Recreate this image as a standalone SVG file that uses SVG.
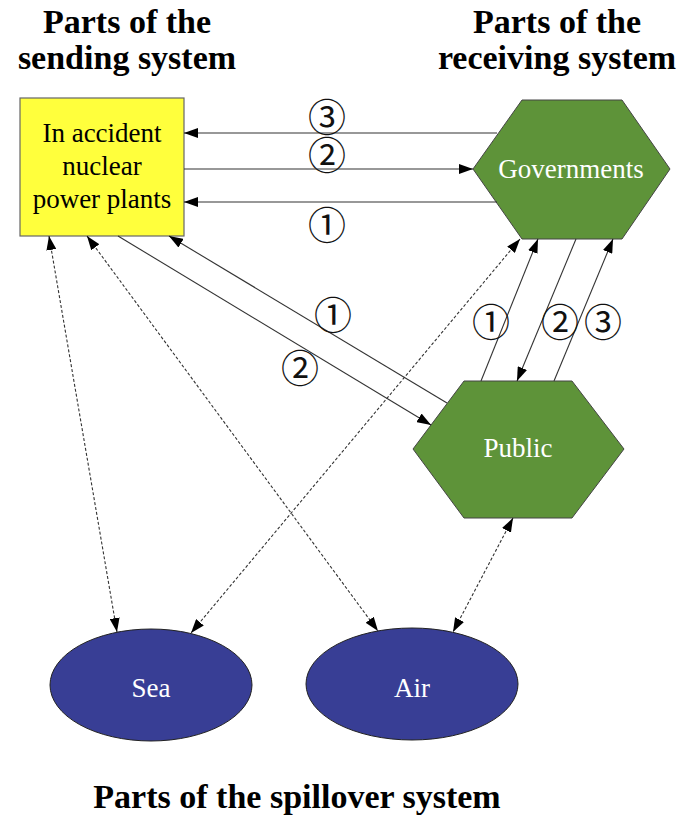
<svg xmlns="http://www.w3.org/2000/svg" width="695" height="820" viewBox="0 0 695 820">
<style>
.title{font-family:"Liberation Serif",serif;font-weight:bold;font-size:34px;fill:#000;text-anchor:middle}
.lbl{font-family:"Liberation Serif","Times New Roman",serif;font-size:27px;text-anchor:middle}
.num{font-family:"Noto Sans CJK JP","DejaVu Sans",sans-serif;font-size:38px;text-anchor:middle;dominant-baseline:central;fill:#111}
.ln{stroke:#333;stroke-width:1.1;fill:none}
.dot{stroke:#333;stroke-width:1.1;fill:none;stroke-dasharray:3,2}
</style>
<defs>
<marker id="ah" markerUnits="userSpaceOnUse" markerWidth="14" markerHeight="10" refX="14" refY="5" orient="auto-start-reverse">
<path d="M0,0 L14,5 L0,10 z" fill="#000"/>
</marker>
</defs>
<rect width="695" height="820" fill="#fff"/>
<g id="titles">
<text class="title" x="127" y="33">Parts of the</text>
<text class="title" x="127" y="69">sending system</text>
<text class="title" x="557" y="33">Parts of the</text>
<text class="title" x="557" y="69">receiving system</text>
<text class="title" x="297" y="808">Parts of the spillover system</text>
</g>
<g id="plants">
<rect x="20" y="98" width="164" height="138" fill="#ffff3c" stroke="#666" stroke-width="1.2"/>
<text class="lbl" x="102" y="142">In accident</text>
<text class="lbl" x="102" y="175">nuclear</text>
<text class="lbl" x="102" y="208">power plants</text>
</g>
<g id="governments">
<polygon points="473,169 522,100 622,100 670,169 622,239 522,239" fill="#5e9339" stroke="#444" stroke-width="1"/>
<text class="lbl" x="571" y="178" fill="#fff">Governments</text>
</g>
<g id="public">
<polygon points="413,449 464,381 572,381 624,449 572,518 464,518" fill="#5e9339" stroke="#444" stroke-width="1"/>
<text class="lbl" x="518" y="457" fill="#fff">Public</text>
</g>
<g id="sea">
<ellipse cx="151" cy="685" rx="101" ry="56" fill="#383e95" stroke="#222" stroke-width="1"/>
<text class="lbl" x="151" y="697" fill="#fff">Sea</text>
</g>
<g id="air">
<ellipse cx="412" cy="684" rx="106" ry="56" fill="#383e95" stroke="#222" stroke-width="1"/>
<text class="lbl" x="412" y="697" fill="#fff">Air</text>
</g>
<g id="connectors">
<line class="ln" x1="497" y1="133" x2="184" y2="133" marker-end="url(#ah)"/>
<line class="ln" x1="184" y1="169" x2="473" y2="169" marker-end="url(#ah)"/>
<line class="ln" x1="497" y1="202" x2="184" y2="202" marker-end="url(#ah)"/>
<line class="ln" x1="447" y1="403" x2="169" y2="236" marker-end="url(#ah)"/>
<line class="ln" x1="118" y1="236" x2="431" y2="425" marker-end="url(#ah)"/>
<line class="ln" x1="481" y1="381" x2="538" y2="239" marker-end="url(#ah)"/>
<line class="ln" x1="576" y1="239" x2="517" y2="381" marker-end="url(#ah)"/>
<line class="ln" x1="554" y1="381" x2="613" y2="239" marker-end="url(#ah)"/>
<line class="dot" x1="49" y1="236" x2="117" y2="632" marker-start="url(#ah)" marker-end="url(#ah)"/>
<line class="dot" x1="87" y1="236" x2="378" y2="631" marker-start="url(#ah)" marker-end="url(#ah)"/>
<line class="dot" x1="520" y1="239" x2="191" y2="633" marker-start="url(#ah)" marker-end="url(#ah)"/>
<line class="dot" x1="513" y1="518" x2="453" y2="632" marker-start="url(#ah)" marker-end="url(#ah)"/>
<text class="num" x="327" y="114">③</text>
<text class="num" x="327" y="152">②</text>
<text class="num" x="327" y="222">①</text>
<text class="num" x="333" y="312">①</text>
<text class="num" x="300" y="365">②</text>
<text class="num" x="491" y="319">①</text>
<text class="num" x="560" y="319">②</text>
<text class="num" x="603" y="319">③</text>
</g>
</svg>
